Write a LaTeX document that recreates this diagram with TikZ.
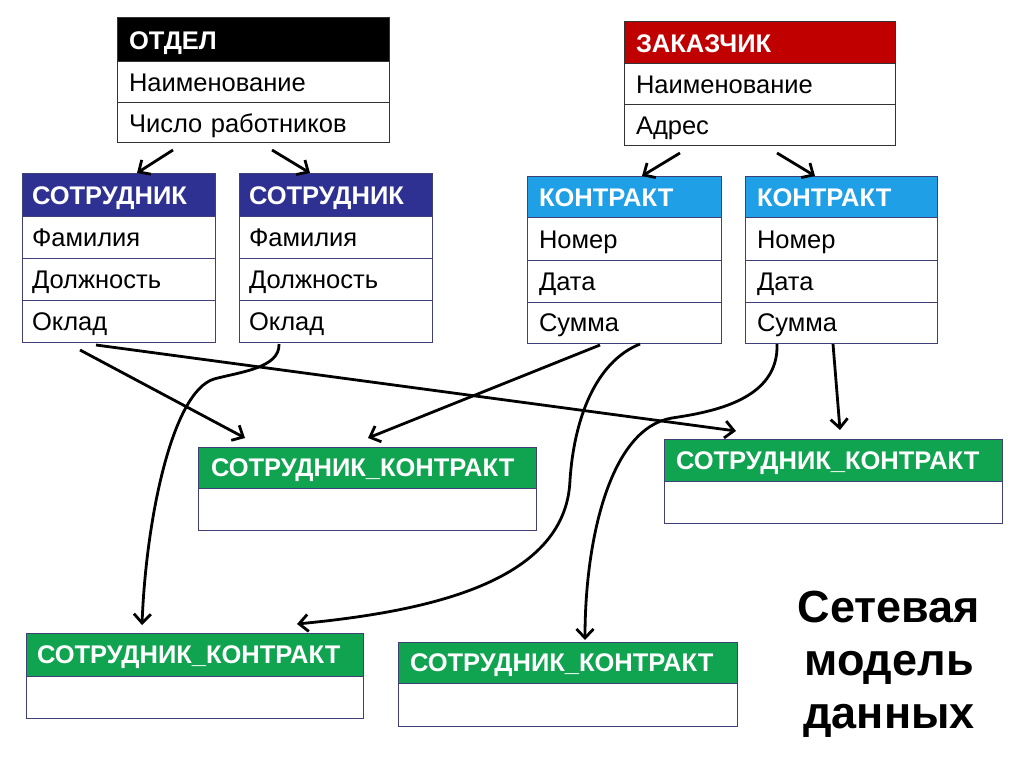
\documentclass[tikz,border=0pt]{standalone}
\usepackage{fontspec}
\setmainfont{Liberation Sans}
\usetikzlibrary{arrows.meta}
\definecolor{bord}{HTML}{404078}
\definecolor{bordg}{HTML}{333333}
\definecolor{cBlack}{HTML}{000000}
\definecolor{cRed}{HTML}{C00000}
\definecolor{cNavy}{HTML}{2E3192}
\definecolor{cBlue}{HTML}{1E9FE6}
\definecolor{cGreen}{HTML}{10A350}
\begin{document}
\begin{tikzpicture}[x=1pt,y=-1pt,
  cell/.style={anchor=north west, draw=bord, line width=1pt, outer sep=0pt, inner ysep=0pt,
    align=left, text height=18.3pt, text depth=0pt},
  hdr/.style={cell, text=white, font=\fontsize{25.5}{30}\selectfont\bfseries},
  body/.style={cell, fill=white, font=\fontsize{25.5}{30}\selectfont},
  link/.style={line width=2.8pt, draw=black, -{Straight Barb[length=9pt,width=17pt,line width=2.8pt]}},
  ttl/.style={anchor=base, font=\fontsize{45}{54}\selectfont\bfseries}
]
\useasboundingbox[fill=white] (0,0) rectangle (1024,767);

% ОТДЕЛ
\node[hdr, fill=cBlack, draw=bordg, inner xsep=12pt, minimum width=272pt, text width=248pt, minimum height=44pt] (otd) at (117,18) {ОТДЕЛ};
\node[body, draw=bordg, inner xsep=12pt, minimum width=272pt, text width=248pt, minimum height=41pt] (otd1) at (otd.south west) {Наименование};
\node[body, draw=bordg, inner xsep=12pt, minimum width=272pt, text width=248pt, minimum height=40pt] (otd2) at (otd1.south west) {Число работников};

% ЗАКАЗЧИК
\node[hdr, fill=cRed, draw=bordg, inner xsep=12pt, minimum width=271pt, text width=247pt, minimum height=42pt] (zak) at (624,22) {ЗАКАЗЧИК};
\node[body, draw=bordg, inner xsep=12pt, minimum width=271pt, text width=247pt, minimum height=41pt] (zak1) at (zak.south west) {Наименование};
\node[body, draw=bordg, inner xsep=12pt, minimum width=271pt, text width=247pt, minimum height=41pt] (zak2) at (zak1.south west) {Адрес};

% СОТРУДНИК 1
\node[hdr, fill=cNavy, inner xsep=10pt, minimum width=193pt, text width=173pt, minimum height=43pt] (s1) at (22,174) {СОТРУДНИК};
\node[body, inner xsep=10pt, minimum width=193pt, text width=173pt, minimum height=41pt] (s1a) at (s1.south west) {Фамилия};
\node[body, inner xsep=10pt, minimum width=193pt, text width=173pt, minimum height=42pt] (s1b) at (s1a.south west) {Должность};
\node[body, inner xsep=10pt, minimum width=193pt, text width=173pt, minimum height=42pt] (s1c) at (s1b.south west) {Оклад};

% СОТРУДНИК 2
\node[hdr, fill=cNavy, inner xsep=10pt, minimum width=193pt, text width=173pt, minimum height=43pt] (s2) at (239,174) {СОТРУДНИК};
\node[body, inner xsep=10pt, minimum width=193pt, text width=173pt, minimum height=41pt] (s2a) at (s2.south west) {Фамилия};
\node[body, inner xsep=10pt, minimum width=193pt, text width=173pt, minimum height=42pt] (s2b) at (s2a.south west) {Должность};
\node[body, inner xsep=10pt, minimum width=193pt, text width=173pt, minimum height=42pt] (s2c) at (s2b.south west) {Оклад};

% КОНТРАКТ 1
\node[hdr, fill=cBlue, inner xsep=12pt, minimum width=194pt, text width=170pt, minimum height=41pt] (k1) at (527,177) {КОНТРАКТ};
\node[body, inner xsep=12pt, minimum width=194pt, text width=170pt, minimum height=42pt] (k1a) at (k1.south west) {Номер};
\node[body, inner xsep=12pt, minimum width=194pt, text width=170pt, minimum height=42pt] (k1b) at (k1a.south west) {Дата};
\node[body, inner xsep=12pt, minimum width=194pt, text width=170pt, minimum height=41pt] (k1c) at (k1b.south west) {Сумма};

% КОНТРАКТ 2
\node[hdr, fill=cBlue, inner xsep=12pt, minimum width=192pt, text width=168pt, minimum height=41pt] (k2) at (745,177) {КОНТРАКТ};
\node[body, inner xsep=12pt, minimum width=192pt, text width=168pt, minimum height=42pt] (k2a) at (k2.south west) {Номер};
\node[body, inner xsep=12pt, minimum width=192pt, text width=168pt, minimum height=42pt] (k2b) at (k2a.south west) {Дата};
\node[body, inner xsep=12pt, minimum width=192pt, text width=168pt, minimum height=41pt] (k2c) at (k2b.south west) {Сумма};

% СОТРУДНИК_КОНТРАКТ boxes
\node[hdr, fill=cGreen, inner xsep=13pt, minimum width=338pt, text width=312pt, minimum height=41pt] (sk1) at (198,447) {СОТРУДНИК\_КОНТРАКТ};
\node[body, inner xsep=13pt, minimum width=338pt, text width=312pt, minimum height=42pt] (sk1b) at (sk1.south west) {};

\node[hdr, fill=cGreen, inner xsep=12pt, minimum width=338pt, text width=314pt, minimum height=42pt] (sk2) at (664,439) {СОТРУДНИК\_КОНТРАКТ};
\node[body, inner xsep=12pt, minimum width=338pt, text width=314pt, minimum height=42pt] (sk2b) at (sk2.south west) {};

\node[hdr, fill=cGreen, inner xsep=11pt, minimum width=337pt, text width=315pt, minimum height=43pt] (sk3) at (26,633) {СОТРУДНИК\_КОНТРАКТ};
\node[body, inner xsep=11pt, minimum width=337pt, text width=315pt, minimum height=42pt] (sk3b) at (sk3.south west) {};

\node[hdr, fill=cGreen, inner xsep=12pt, minimum width=339pt, text width=315pt, minimum height=41pt] (sk4) at (398,642) {СОТРУДНИК\_КОНТРАКТ};
\node[body, inner xsep=12pt, minimum width=339pt, text width=315pt, minimum height=43pt] (sk4b) at (sk4.south west) {};

% Title
\node[ttl] (t1) at (889,622) {Сетевая};
\node[ttl] (t2) at (889,675) {модель};
\node[ttl] (t3) at (889,728) {данных};

% Connectors
\draw[link] ([shift={(-80,7)}]otd2.south) -- ([shift={(18.5,-1)}]s1.north);
\draw[link] ([shift={(19,7)}]otd2.south) -- ([shift={(-25.5,-1)}]s2.north);
\draw[link] ([shift={(-79.5,7)}]zak2.south) -- ([shift={(18,-1)}]k1.north);
\draw[link] ([shift={(17.5,7)}]zak2.south) -- ([shift={(-26,-1)}]k2.north);

\draw[link] ([shift={(-38.5,8)}]s1c.south) -- ([shift={(-122,-9)}]sk1.north);
\draw[link] ([shift={(-22.5,3)}]s1c.south) -- ([shift={(-97,-8)}]sk2.north);
\draw[link] ([shift={(-56.5,2)}]s2c.south) .. controls (280,368) and (240,372) .. (214,379)
   .. controls (172,392) and (146,520) .. ([shift={(-52.5,-8)}]sk3.north);
\draw[link] ([shift={(-24,2)}]k1c.south) -- ([shift={(1,-9)}]sk1.north);
\draw[link] ([shift={(16,1)}]k1c.south) .. controls (595,362) and (574,420) .. (570,480)
   .. controls (566,585) and (420,612) .. ([shift={(102.5,-9)}]sk3.north);
\draw[link] ([shift={(-64,1)}]k2c.south) .. controls (779,400) and (712,412) .. (672,418)
   .. controls (610,428) and (585,540) .. ([shift={(17.5,-2)}]sk4.north);
\draw[link] ([shift={(-8,1)}]k2c.south) -- ([shift={(7,-9)}]sk2.north);
\end{tikzpicture}
\end{document}
